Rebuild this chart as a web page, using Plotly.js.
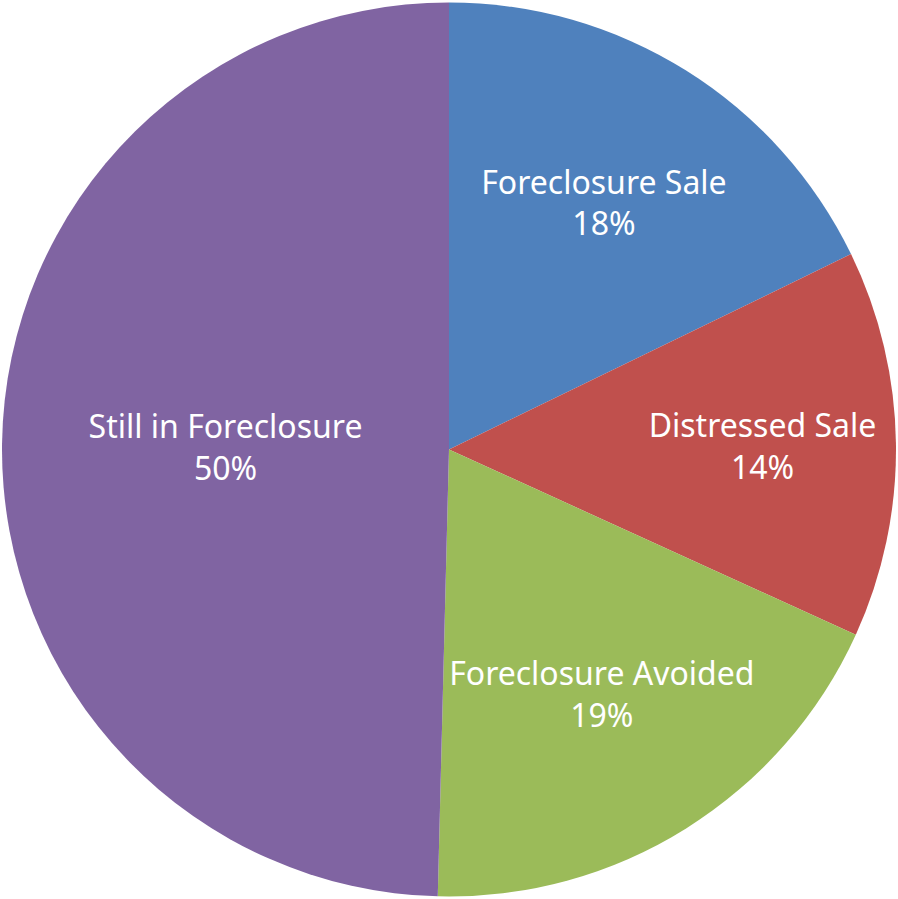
<!DOCTYPE html>
<html>
<head>
<meta charset="utf-8">
<script src="https://cdn.plot.ly/plotly-3.0.1.min.js"></script>
<style>html,body{margin:0;padding:0;background:#fff;}#chart{width:898px;height:899px;}</style>
</head>
<body>
<div id="chart"></div>
<script>
const categories = ["Foreclosure Sale", "Distressed Sale", "Foreclosure Avoided", "Still in Foreclosure"];
const values = [17.8, 14.0, 18.6, 49.6];
const colors = ["#4F81BD", "#C0504D", "#9BBB59", "#8064A2"];

Plotly.newPlot("chart", [{
  type: "pie",
  labels: categories,
  values: values,
  sort: false,
  direction: "clockwise",
  rotation: 0,
  marker: {colors: colors, line: {width: 0}},
  texttemplate: "%{label}<br>%{percent:.0%}",
  textposition: "inside",
  insidetextorientation: "horizontal",
  textfont: {family: "Noto Sans, Open Sans, sans-serif", size: 32, color: "#FFFFFF"},
  hoverinfo: "label+percent",
  showlegend: false
}], {
  width: 898, height: 899,
  margin: {l: 2, r: 2, t: 2, b: 2},
  paper_bgcolor: "#FFFFFF",
  uniformtext: {mode: "show", minsize: 32},
  showlegend: false
}, {displayModeBar: false, staticPlot: true});
</script>
</body>
</html>
